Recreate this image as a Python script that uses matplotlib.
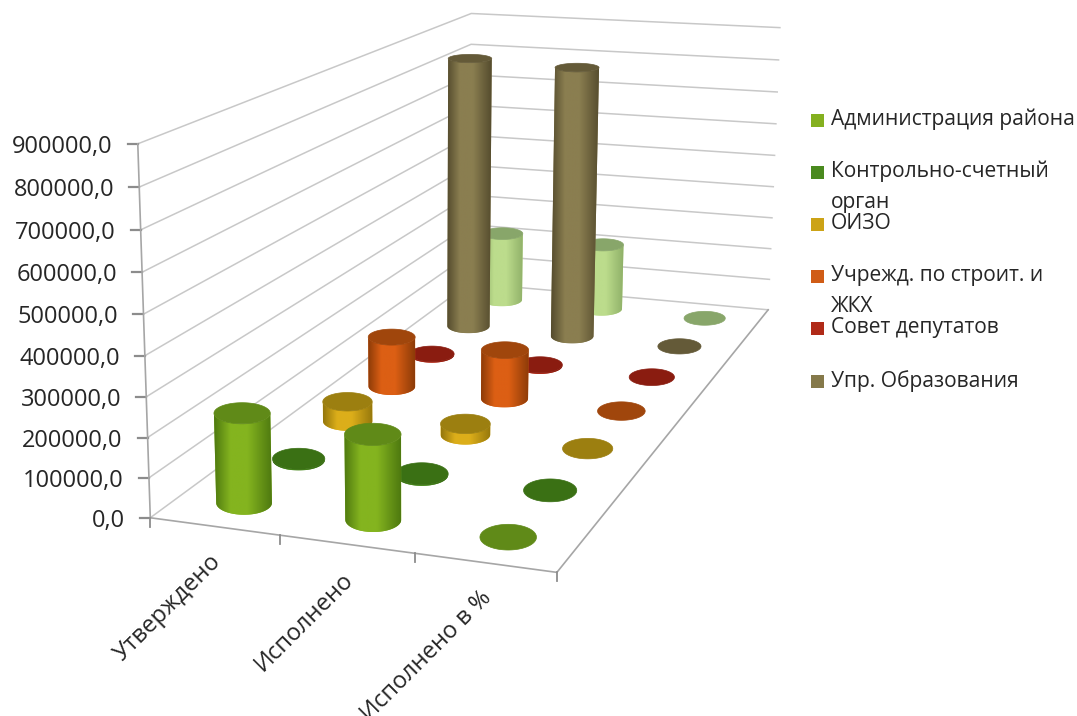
import numpy as np
import matplotlib
matplotlib.use("Agg")
import matplotlib.pyplot as plt
from matplotlib.colors import LinearSegmentedColormap
from matplotlib.patches import Polygon, Rectangle

plt.rcParams['font.family'] = ['Open Sans', 'DejaVu Sans']

categories = ["Утверждено", "Исполнено", "Исполнено в %"]
ticks = [0, 100000, 200000, 300000, 400000, 500000, 600000, 700000, 800000, 900000]
legend_labels = ["Администрация района", "Контрольно-счетный\nорган", "ОИЗО",
                 "Учрежд. по строит. и\nЖКХ", "Совет депутатов", "Упр. Образования"]

# one list per series: Утверждено, Исполнено, Исполнено в %
admin = [227000, 212000, 98]
kso = [3000, 3000, 99]
oizo = [55000, 30000, 64]
stroit = [145000, 140000, 100]
sovet = [3000, 3000, 96]
obraz = [835000, 825000, 99]
extra = [220000, 210000, 95]
series = [admin, kso, oizo, stroit, sovet, obraz, extra]

body_colors = ["#84b41f", "#4a8a1e", "#dcae1a", "#dc5f14", "#b02a18", "#8a7e50", "#bcdc8c"]
edge_colors = ["#4f7a10", "#2f5f10", "#96780c", "#8e3c08", "#7a1a0c", "#554c2e", "#8fb068"]
cap_colors = ["#608a18", "#3a7014", "#9c7f10", "#a0460c", "#8a1c10", "#645a38", "#88a66a"]
legend_colors = ["#84b01f", "#4a8a1e", "#cca316", "#d05c16", "#b02a18", "#85794a"]


def fit_camera():
    # floor and wall corners of the 3d box, (u, v, z) -> pixel
    world = [(0, 0, 0), (0, 0, 1), (1, 0, 0), (0, 1, 1), (1, 1, 1), (1, 1, 0), (0, 1, 0)]
    pix = [(150, 517), (138, 144), (557, 573), (471, 13), (780, 28), (768, 309), (470, 284)]
    rows = []
    for (u, v, z), (x, y) in zip(world, pix):
        rows.append([u, v, z, 1, 0, 0, 0, 0, -x * u, -x * v, -x * z, -x])
        rows.append([0, 0, 0, 0, u, v, z, 1, -y * u, -y * v, -y * z, -y])
    return np.linalg.svd(np.array(rows, dtype=float))[2][-1].reshape(3, 4)


camera = fit_camera()


def project(u, v, value=0):
    u, v = np.asarray(u, dtype=float), np.asarray(v, dtype=float)
    z = np.asarray(value, dtype=float) / ticks[-1]
    pts = camera @ np.array([u, v, z * np.ones_like(u), np.ones_like(u)])
    return pts[0] / pts[2], pts[1] / pts[2]


def level_ellipse(u0, v0, value, ru, rv):
    # Excel draws the disc ends level, so keep only the extents of the projected circle
    t = np.linspace(0, 2 * np.pi, 181)
    x, y = project(u0 + ru * np.cos(t), v0 + rv * np.sin(t), value)
    cx, cy = project(u0, v0, value)
    return cx, cy, (x.max() - x.min()) / 2, (y.max() - y.min()) / 2


def draw_cylinder(ax, u0, v0, value, body, edge, cap, zorder, ru=0.0628, rv=0.0357):
    bcx, bcy, bw, bh = level_ellipse(u0, v0, 0, ru, rv)
    tcx, tcy, tw, th = level_ellipse(u0, v0, value, ru, rv)
    # front half of the round wall, left to right along the base, back along the top
    t = np.linspace(np.pi, 0, 61)
    outline = np.r_[np.c_[bcx + bw * np.cos(t), bcy + bh * np.sin(t)],
                    np.c_[tcx + tw * np.cos(t[::-1]), tcy + th * np.sin(t[::-1])]]
    wall = Polygon(outline, closed=True, facecolor=body, edgecolor="none", zorder=zorder)
    ax.add_patch(wall)
    cmap = LinearSegmentedColormap.from_list("wall", [(0, edge), (0.28, body), (0.58, body), (1, edge)])
    left, right = outline[:, 0].min(), outline[:, 0].max()
    img = ax.imshow(np.linspace(0, 1, 64)[None, :], cmap=cmap, vmin=0, vmax=1, aspect="auto",
                    interpolation="bilinear", extent=(left, right, outline[:, 1].max(), outline[:, 1].min()),
                    zorder=zorder)
    img.set_clip_path(wall)
    t = np.linspace(0, 2 * np.pi, 121)
    ax.add_patch(Polygon(np.c_[tcx + tw * np.cos(t), tcy + th * np.sin(t)], closed=True,
                         facecolor=cap, edgecolor=cap, linewidth=0.5, zorder=zorder + 0.1))


fig = plt.figure(figsize=(10.77, 7.16), dpi=100)
ax = fig.add_axes([0, 0, 1, 1])
ax.axis("off")

grid_c = "#c8c8c8"
axis_c = "#a6a6a6"

# walls
for t in ticks:
    x, y = project([0, 0, 1], [0, 1, 1], t)
    ax.plot(x, y, color=grid_c, lw=1.1, zorder=1)
    x0, y0 = project(0, 0, t)
    ax.plot([x0 - 10, x0], [y0, y0], color="#8c8c8c", lw=1.6, zorder=1)
    ax.text(x0 - 25, y0 + 3, f"{t:.1f}".replace(".", ","), ha="right", va="center",
            fontsize=17, color="#262626")

# floor edges and front axis
x, y = project([0, 1, 1], [0, 0, 1])
ax.plot(x, y, color=axis_c, lw=1.2, zorder=1)
x, y = project([0, 0], [0, 0], [0, ticks[-1]])
ax.plot(x, y, color=axis_c, lw=1.2, zorder=1)
for k in range(len(categories) + 1):
    x0, y0 = project(k / len(categories), 0)
    ax.plot([x0, x0], [y0, y0 + 9], color="#8c8c8c", lw=1.3, zorder=1)

# back rows first so the front rows cover them
z = 2
for s in range(len(series) - 1, -1, -1):
    for c in range(len(categories)):
        draw_cylinder(ax, (c + 0.5) / len(categories), (s + 0.5) / len(series), series[s][c],
                      body_colors[s], edge_colors[s], cap_colors[s], z)
        z += 1

for c, name in enumerate(categories):
    x0, y0 = project((c + 0.5) / len(categories), 0)
    ax.text(x0 + 3, y0 + 32, name, rotation=45, rotation_mode="anchor", ha="right", va="center",
            fontsize=17, color="#262626", clip_on=False)

legend_y = [120, 172, 224, 276, 328, 381]
for label, color, y in zip(legend_labels, legend_colors, legend_y):
    ax.add_patch(Rectangle((811, y - 6.5), 13, 13, facecolor=color, edgecolor="none"))
    ax.text(831, y - 11, label, ha="left", va="top", fontsize=15.1, color="#262626", linespacing=1.6)

ax.set_xlim(0, 1077)
ax.set_ylim(716, 0)
fig.savefig("out.png", dpi=100)
